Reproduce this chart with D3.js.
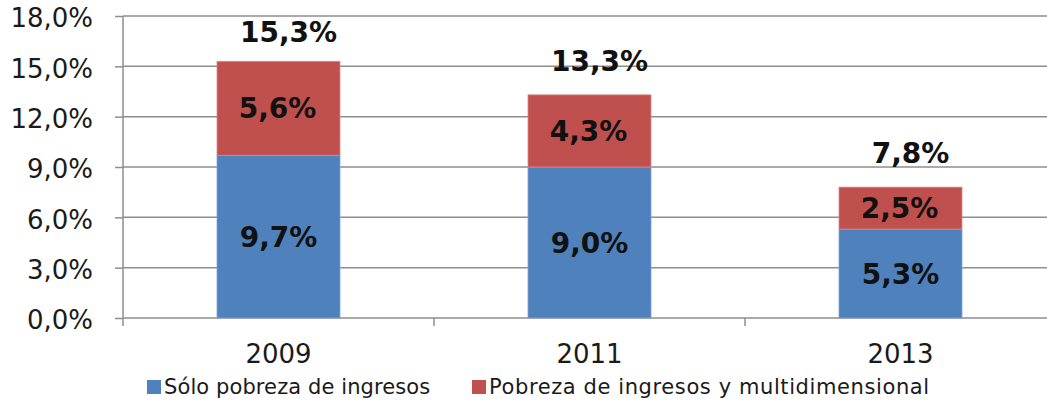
<!DOCTYPE html>
<html><head><meta charset="utf-8">
<script src="https://cdn.jsdelivr.net/npm/d3@7"></script>
<style>body{margin:0;background:#fff;} svg{display:block;}</style>
</head><body>
<svg id="c" width="1047" height="402"></svg>
<script>
const categories = ["2009", "2011", "2013"];
const soloIngresos = [9.7, 9.0, 5.3];
const ingresosMulti = [5.6, 4.3, 2.5];
const totals = [15.3, 13.3, 7.8];
const yTicks = [0, 3, 6, 9, 12, 15, 18];
const seriesNames = ["Sólo pobreza de ingresos", "Pobreza de ingresos y multidimensional"];
const colors = ["#4F81BD", "#C0504D"];

(function () {
const fmt = v => v.toFixed(1).replace(".", ",") + "%";
const svg = d3.select("#c");
const font = "'DejaVu Sans', Verdana, sans-serif";
const pLeft = 123, pRight = 1056, pTop = 16, pBottom = 318;
const grid = "#8e8e8e";

const xb = d3.scaleBand().domain(categories).range([pLeft, pRight]);
const y = d3.scaleLinear().domain([0, 18]).range([pBottom, pTop]);

// gridlines
svg.append("g").selectAll("line").data(yTicks.filter(d => d > 0)).join("line")
  .attr("x1", pLeft).attr("x2", 1047).attr("y1", d => y(d)).attr("y2", d => y(d))
  .attr("stroke", grid).attr("stroke-width", 1.5);

// y axis
const ya = svg.append("g").attr("transform", `translate(${pLeft},0)`)
  .call(d3.axisLeft(y).tickValues(yTicks).tickFormat(fmt).tickSize(8).tickPadding(22));
ya.select(".domain").attr("stroke", grid).attr("stroke-width", 1.5).attr("d", `M0,${pTop}V${pBottom + 8}`);
ya.selectAll(".tick line").attr("stroke", grid).attr("stroke-width", 1.5);
ya.selectAll(".tick text").attr("font-size", 26).attr("font-family", font).attr("fill", "#1a1a1a").attr("dy", "0.41em");

// x axis
const xa = svg.append("g").attr("transform", `translate(0,${pBottom})`)
  .call(d3.axisBottom(xb).tickSize(0));
xa.select(".domain").attr("stroke", grid).attr("stroke-width", 1.5).attr("d", `M${pLeft},0H1047`);
xa.selectAll(".tick text").attr("font-size", 26).attr("font-family", font).attr("fill", "#1a1a1a")
  .attr("y", 45).attr("dy", 0);
svg.append("g").selectAll("line").data(categories.slice(1)).join("line")
  .attr("x1", d => xb(d)).attr("x2", d => xb(d)).attr("y1", pBottom).attr("y2", pBottom + 8)
  .attr("stroke", grid).attr("stroke-width", 1.5);

// bars
const bw = 123;
const cx = d => xb(d) + xb.bandwidth() / 2;
svg.append("g").selectAll("rect").data(categories).join("rect")
  .attr("x", d => cx(d) - bw / 2).attr("width", bw)
  .attr("y", (d, i) => y(soloIngresos[i])).attr("height", (d, i) => y(0) - y(soloIngresos[i]))
  .attr("fill", colors[0]).attr("stroke", "#7fa3d1").attr("stroke-width", 0.8);
svg.append("g").selectAll("rect").data(categories).join("rect")
  .attr("x", d => cx(d) - bw / 2).attr("width", bw)
  .attr("y", (d, i) => y(soloIngresos[i] + ingresosMulti[i])).attr("height", (d, i) => y(soloIngresos[i]) - y(soloIngresos[i] + ingresosMulti[i]))
  .attr("fill", colors[1]).attr("stroke", "#d98a88").attr("stroke-width", 0.8);

// labels
const lab = svg.append("g").attr("font-family", font).attr("font-weight", "bold").attr("font-size", 28)
  .attr("text-anchor", "middle").attr("fill", "#111");
lab.selectAll("text.a").data(categories).join("text").attr("class", "a")
  .attr("x", d => cx(d)).attr("y", (d, i) => y(soloIngresos[i] / 2)).attr("dy", "0.36em").text((d, i) => fmt(soloIngresos[i]));
lab.selectAll("text.b").data(categories).join("text").attr("class", "b")
  .attr("x", d => cx(d) - 1).attr("y", (d, i) => y(soloIngresos[i] + ingresosMulti[i] / 2)).attr("dy", "0.36em").text((d, i) => fmt(ingresosMulti[i]));
lab.selectAll("text.t").data(categories).join("text").attr("class", "t")
  .attr("x", d => cx(d) + 10).attr("y", (d, i) => Math.max(y(totals[i]) - 24, pTop + 26)).text((d, i) => fmt(totals[i]));

// legend
const lx = [147, 472];
const ls = [0.1, 0.6];
const lg = svg.append("g").attr("font-family", font).attr("font-size", 21).attr("fill", "#1a1a1a");
seriesNames.forEach((n, i) => {
  lg.append("rect").attr("x", lx[i]).attr("y", 380).attr("width", 14).attr("height", 14).attr("fill", colors[i]);
  lg.append("text").attr("x", lx[i] + 17).attr("y", 394).attr("letter-spacing", ls[i]).text(n);
});
})();
</script>
</body></html>
